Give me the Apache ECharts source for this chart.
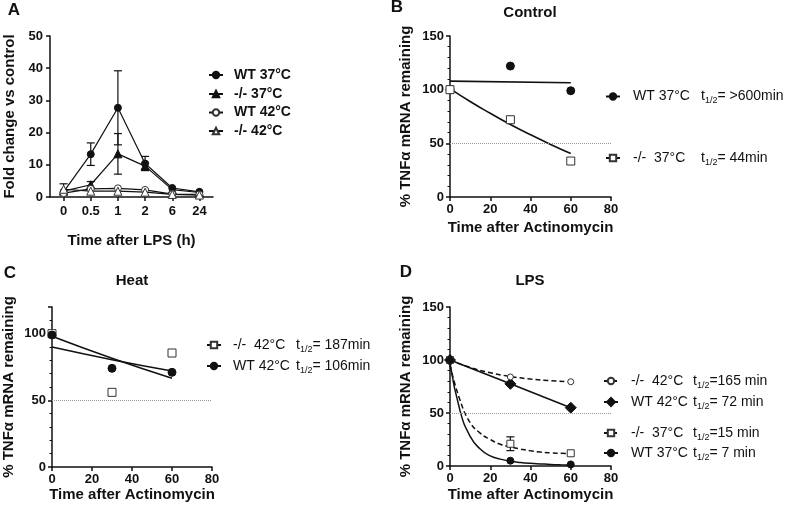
<!DOCTYPE html>
<html><head><meta charset="utf-8">
<script src="https://cdn.jsdelivr.net/npm/echarts@6/dist/echarts.min.js"></script>
<style>html,body{margin:0;padding:0;background:#fff}#c{width:787px;height:508px}</style>
</head><body><div id="c"></div>
<script>
// ---------- Panel A: fold change ----------
const aCats = ['0', '0.5', '1', '2', '6', '24'];
const aWT37 = [1.6, 13.3, 27.7, 10.4, 2.8, 1.6];
const aWT37Err = [0, 3.5, 11.5, 2.2, 0, 0];
const aKO37 = [1.8, 3.8, 13.4, 9.6, 2.3, 1.4];
const aKO37Err = [0, 1.0, 6.3, 1.0, 0, 0];
const aWT42 = [1.2, 2.5, 2.7, 2.2, 0.9, 0.8];
const aKO42 = [2.4, 1.8, 1.8, 1.5, 0.8, 0.6];
const aKO42Err = [1.7, 0, 0, 0, 0, 0];
const aYTicks = [0, 10, 20, 30, 40, 50];
const aLegend = ['WT 37°C', '-/- 37°C', 'WT 42°C', '-/- 42°C'];

// ---------- Panel B: Control ----------
const bTime = [0, 30, 60];
const bWT37 = [100, 122, 99];
const bKO37 = [100, 72, 33.5];
const bWT37FitTime = [0, 60];
const bWT37Fit = [108, 106.5];
const bKO37FitTime = [0, 10, 20, 30, 40, 50, 60];
const bKO37Fit = [101, 89, 78, 67.5, 58, 49, 40.5];
const bLegend = [['WT 37°C', '= >600min'], ['-/-  37°C', '= 44min']];

// ---------- Panel C: Heat ----------
const cTime = [0, 30, 60];
const cKO42 = [100, 56, 85.5];
const cWT42 = [99, 74, 71];
const cFitTime = [0, 30, 60];
const cKO42Fit = [90, 80.5, 72];
const cWT42Fit = [98, 81.5, 66.5];
const cLegend = [['-/-  42°C', '= 187min'], ['WT 42°C', '= 106min']];

// ---------- Panel D: LPS ----------
const dTime = [0, 30, 60];
const dKO42 = [100, 84, 79.5];
const dWT42 = [100, 77.5, 55];
const dKO37 = [100, 21, 12];
const dKO37Lo = [null, 14.5, null];
const dKO37Hi = [null, 27.5, null];
const dWT37 = [100, 5, 1.5];
const dKO42FitTime = [0, 10, 20, 30, 40, 50, 60];
const dKO42Fit = [100, 93, 88, 84.5, 82, 80.5, 79.5];
const dDecayFitTime = [0, 5, 10, 15, 20, 25, 30, 35, 40, 45, 50, 55, 60];
const dKO37Fit = [95, 62, 41, 31, 25, 20.5, 18, 16, 14.3, 13.1, 12.4, 12, 11.7];
const dWT37Fit = [97, 52, 28, 16, 9.5, 6.5, 4.5, 3.3, 2.5, 2, 1.5, 1.2, 1];
const dLegend = [['-/-  42°C', '=165 min'], ['WT 42°C', '= 72 min'], ['-/-  37°C', '=15 min'], ['WT 37°C', '= 7 min']];

// shared axes
const timeTicks = [0, 20, 40, 60, 80];
const pctTicks150 = [0, 50, 100, 150];
const pctTicks120 = [0, 50, 100, 120];
const halfRef = 50;

// ---------- helpers ----------
const FONT = 'Liberation Sans, Arial, sans-serif';
const K = '#111';
const pairs = (xs, ys) => xs.map((x, i) => [x, ys[i]]);
const filled = { color: K, borderColor: K, borderWidth: 1, opacity: 1 };
const open = { color: '#fff', borderColor: '#333', borderWidth: 1, opacity: 1 };

function errData(xs, ys, errs) {
  const out = [];
  xs.forEach((x, i) => { if (errs[i]) out.push([x, ys[i] - errs[i], ys[i] + errs[i]]); });
  return out;
}
function errSeries(idx, data, cap) {
  return {
    type: 'custom', xAxisIndex: idx, yAxisIndex: idx, silent: true, z: 1,
    encode: { x: 0, y: [1, 2] }, data: data,
    renderItem: function (params, api) {
      const x = api.value(0);
      const p1 = api.coord([x, api.value(1)]);
      const p2 = api.coord([x, api.value(2)]);
      const st = { stroke: K, lineWidth: 1.2 };
      return { type: 'group', children: [
        { type: 'line', shape: { x1: p1[0], y1: p1[1], x2: p2[0], y2: p2[1] }, style: st },
        { type: 'line', shape: { x1: p1[0] - cap, y1: p1[1], x2: p1[0] + cap, y2: p1[1] }, style: st },
        { type: 'line', shape: { x1: p2[0] - cap, y1: p2[1], x2: p2[0] + cap, y2: p2[1] }, style: st }
      ] };
    }
  };
}
const mkAxisLine = () => ({ show: true, onZero: false, lineStyle: { color: K, width: 1.5 } });
const mkAxisTick = () => ({ show: true, length: 4, lineStyle: { color: K, width: 1.5 } });
const tickLbl = { color: K, fontWeight: 'bold', fontSize: 13, fontFamily: FONT };
const nameStyle = { color: K, fontWeight: 'bold', fontSize: 15, fontFamily: FONT };

function timeAxis(g, gap) {
  return {
    gridIndex: g, type: 'value', min: timeTicks[0], max: timeTicks[timeTicks.length - 1],
    interval: timeTicks[1] - timeTicks[0], splitLine: { show: false },
    axisLine: mkAxisLine(), axisTick: mkAxisTick(),
    axisLabel: Object.assign({ margin: 6 }, tickLbl),
    name: 'Time after Actinomycin', nameLocation: 'middle', nameGap: gap, nameTextStyle: nameStyle
  };
}
function pctAxis(g, ticks, gap, hideMax) {
  return {
    gridIndex: g, type: 'value', min: ticks[0], max: ticks[ticks.length - 1],
    interval: ticks[1] - ticks[0], splitLine: { show: false },
    axisLine: mkAxisLine(), axisTick: mkAxisTick(),
    minorTick: { show: true, splitNumber: 5, length: 2.5, lineStyle: { color: K, width: 1 } },
    minorSplitLine: { show: false },
    axisLabel: Object.assign({ margin: 6, showMaxLabel: !hideMax }, tickLbl),
    name: '% TNFα mRNA remaining', nameLocation: 'middle', nameGap: gap, nameTextStyle: nameStyle
  };
}
function refLine() {
  return {
    silent: true, symbol: ['none', 'none'], label: { show: false },
    lineStyle: { type: 'dotted', color: '#999', width: 1 }, data: [{ yAxis: halfRef }]
  };
}
function legendItem(name, left, cy, label, half, opts) {
  opts = opts || {};
  const rich = {
    n: { fontSize: 14, lineHeight: 18, fontFamily: FONT, color: K, fontWeight: opts.bold ? 'bold' : 'normal',
         padding: [0, 0, 0, opts.pad || 7], width: opts.nw || undefined },
    t: { fontSize: 14, lineHeight: 18, fontFamily: FONT, color: K },
    s: { fontSize: 9, lineHeight: 10, fontFamily: FONT, color: K, verticalAlign: 'bottom' }
  };
  return {
    data: [name], left: left, top: cy - 9, padding: 0, itemGap: 0, selectedMode: false,
    itemWidth: 14, itemHeight: opts.ih || 8,
    formatter: function () {
      return half ? '{n|' + label + '}{t|t}{s|1/2}{t|' + half + '}' : '{n|' + label + '}';
    },
    textStyle: { rich: rich }
  };
}

// ---------- series ----------
const series = [];
// A
const aSym = [
  ['A0', aWT37, 'circle', 7, filled],
  ['A1', aKO37, 'triangle', 8, filled],
  ['A2', aWT42, 'circle', 7, open],
  ['A3', aKO42, 'triangle', 8, open]
];
aSym.forEach(function (s) {
  series.push({ name: s[0], type: 'line', xAxisIndex: 0, yAxisIndex: 0, data: s[1],
    symbol: s[2], symbolSize: s[3], showSymbol: true, itemStyle: s[4], z: 3,
    lineStyle: { color: K, width: 1.2 } });
});
const aIdx = aCats.map(function (c, i) { return i; });
series.push(errSeries(0, errData(aIdx, aWT37, aWT37Err).concat(errData(aIdx, aKO37, aKO37Err), errData(aIdx, aKO42, aKO42Err)), 4));

// B
series.push({ name: 'B0', type: 'line', xAxisIndex: 1, yAxisIndex: 1, data: pairs(bWT37FitTime, bWT37Fit),
  symbol: 'circle', showSymbol: false, itemStyle: filled, lineStyle: { color: K, width: 1.6 }, markLine: refLine() });
series.push({ name: 'B1', type: 'line', xAxisIndex: 1, yAxisIndex: 1, data: pairs(bKO37FitTime, bKO37Fit),
  smooth: true, symbol: 'rect', showSymbol: false, itemStyle: open, lineStyle: { color: K, width: 1.6 } });
series.push({ type: 'scatter', xAxisIndex: 1, yAxisIndex: 1, data: pairs(bTime, bWT37), symbol: 'circle', symbolSize: 8, itemStyle: filled, z: 4 });
series.push({ type: 'scatter', xAxisIndex: 1, yAxisIndex: 1, data: pairs(bTime, bKO37), symbol: 'rect', symbolSize: 8, itemStyle: open, z: 4 });

// C
series.push({ name: 'C0', type: 'line', xAxisIndex: 2, yAxisIndex: 2, data: pairs(cFitTime, cKO42Fit),
  smooth: true, symbol: 'rect', showSymbol: false, itemStyle: open, lineStyle: { color: K, width: 1.6 }, markLine: refLine() });
series.push({ name: 'C1', type: 'line', xAxisIndex: 2, yAxisIndex: 2, data: pairs(cFitTime, cWT42Fit),
  smooth: true, symbol: 'circle', showSymbol: false, itemStyle: filled, lineStyle: { color: K, width: 1.6 } });
series.push({ type: 'scatter', xAxisIndex: 2, yAxisIndex: 2, data: pairs(cTime, cKO42), symbol: 'rect', symbolSize: 8, itemStyle: open, z: 4 });
series.push({ type: 'scatter', xAxisIndex: 2, yAxisIndex: 2, data: pairs(cTime, cWT42), symbol: 'circle', symbolSize: 8, itemStyle: filled, z: 4 });

// D
series.push({ name: 'D0', type: 'line', xAxisIndex: 3, yAxisIndex: 3, data: pairs(dKO42FitTime, dKO42Fit),
  smooth: true, symbol: 'circle', showSymbol: false, itemStyle: open,
  lineStyle: { color: K, width: 1.5, type: [5, 3] }, markLine: refLine() });
series.push({ name: 'D1', type: 'line', xAxisIndex: 3, yAxisIndex: 3, data: pairs(dTime, dWT42),
  symbol: 'diamond', symbolSize: 11, showSymbol: true, itemStyle: filled, lineStyle: { color: K, width: 1.6 }, z: 3 });
series.push({ name: 'D2', type: 'line', xAxisIndex: 3, yAxisIndex: 3, data: pairs(dDecayFitTime, dKO37Fit),
  smooth: true, symbol: 'rect', showSymbol: false, itemStyle: open,
  lineStyle: { color: K, width: 1.5, type: [5, 3] } });
series.push({ name: 'D3', type: 'line', xAxisIndex: 3, yAxisIndex: 3, data: pairs(dDecayFitTime, dWT37Fit),
  smooth: true, symbol: 'circle', showSymbol: false, itemStyle: filled,
  lineStyle: { color: K, width: 1.5 } });
series.push({ type: 'scatter', xAxisIndex: 3, yAxisIndex: 3, data: pairs(dTime, dKO42), symbol: 'circle', symbolSize: 6, itemStyle: open, z: 4 });
series.push({ type: 'scatter', xAxisIndex: 3, yAxisIndex: 3, data: pairs(dTime, dKO37), symbol: 'rect', symbolSize: 7, itemStyle: open, z: 4 });
series.push({ type: 'scatter', xAxisIndex: 3, yAxisIndex: 3, data: pairs(dTime, dWT37), symbol: 'circle', symbolSize: 7, itemStyle: filled, z: 4 });
const dErr = [];
dTime.forEach(function (t, i) { if (dKO37Lo[i] != null) dErr.push([t, dKO37Lo[i], dKO37Hi[i]]); });
series.push(errSeries(3, dErr, 4));

// ---------- legends ----------
const legends = [];
[77, 96, 114.5, 133].forEach(function (cy, i) {
  legends.push(legendItem('A' + i, 208, cy, aLegend[i], null, { bold: true, pad: 6 }));
});
[98.5, 160].forEach(function (cy, i) {
  legends.push(legendItem('B' + i, 605, cy, bLegend[i][0], bLegend[i][1], { pad: 8, nw: 68 }));
});
[347, 368].forEach(function (cy, i) {
  legends.push(legendItem('C' + i, 206, cy, cLegend[i][0], cLegend[i][1], { pad: 7, nw: 63 }));
});
[383, 404, 435, 455].forEach(function (cy, i) {
  legends.push(legendItem('D' + i, 603, cy, dLegend[i][0], dLegend[i][1], { pad: 8, nw: 62, ih: i === 1 ? 10 : 8 }));
});

function txt(s, x, y, size) {
  return { type: 'text', x: x, y: y, silent: true,
    style: { text: s, fill: K, font: 'bold ' + size + 'px ' + FONT, textAlign: 'center', textVerticalAlign: 'middle' } };
}

const option = {
  animation: false,
  backgroundColor: '#fff',
  grid: [
    { left: 50, top: 36, width: 163, height: 161, outerBoundsMode: 'none' },
    { left: 450, top: 36, width: 161, height: 161, outerBoundsMode: 'none' },
    { left: 52, top: 307, width: 160, height: 160, outerBoundsMode: 'none' },
    { left: 450, top: 307, width: 161, height: 159, outerBoundsMode: 'none' }
  ],
  xAxis: [
    { gridIndex: 0, type: 'category', data: aCats, boundaryGap: true,
      axisLine: mkAxisLine(), axisTick: Object.assign({ alignWithLabel: true }, mkAxisTick()),
      axisLabel: Object.assign({ margin: 8 }, tickLbl),
      name: 'Time after LPS (h)', nameLocation: 'middle', nameGap: 36, nameTextStyle: nameStyle },
    timeAxis(1, 23), timeAxis(2, 20), timeAxis(3, 21)
  ],
  yAxis: [
    { gridIndex: 0, type: 'value', min: aYTicks[0], max: aYTicks[aYTicks.length - 1], interval: aYTicks[1] - aYTicks[0],
      splitLine: { show: false }, axisLine: mkAxisLine(), axisTick: mkAxisTick(),
      axisLabel: Object.assign({ margin: 7 }, tickLbl),
      name: 'Fold change vs control', nameLocation: 'middle', nameGap: 33, nameTextStyle: nameStyle },
    pctAxis(1, pctTicks150, 37, false),
    pctAxis(2, pctTicks120, 36, true),
    pctAxis(3, pctTicks150, 37, false)
  ],
  legend: legends,
  series: series,
  graphic: [
    txt('A', 14, 10, 17), txt('B', 397, 7, 17), txt('C', 10, 273.5, 17), txt('D', 406, 272.5, 17),
    txt('Control', 530, 12.5, 15), txt('Heat', 132, 281, 15), txt('LPS', 530, 281, 15)
  ]
};
const chart = echarts.init(document.getElementById('c'), null, { renderer: 'canvas' });
chart.setOption(option);
</script></body></html>
